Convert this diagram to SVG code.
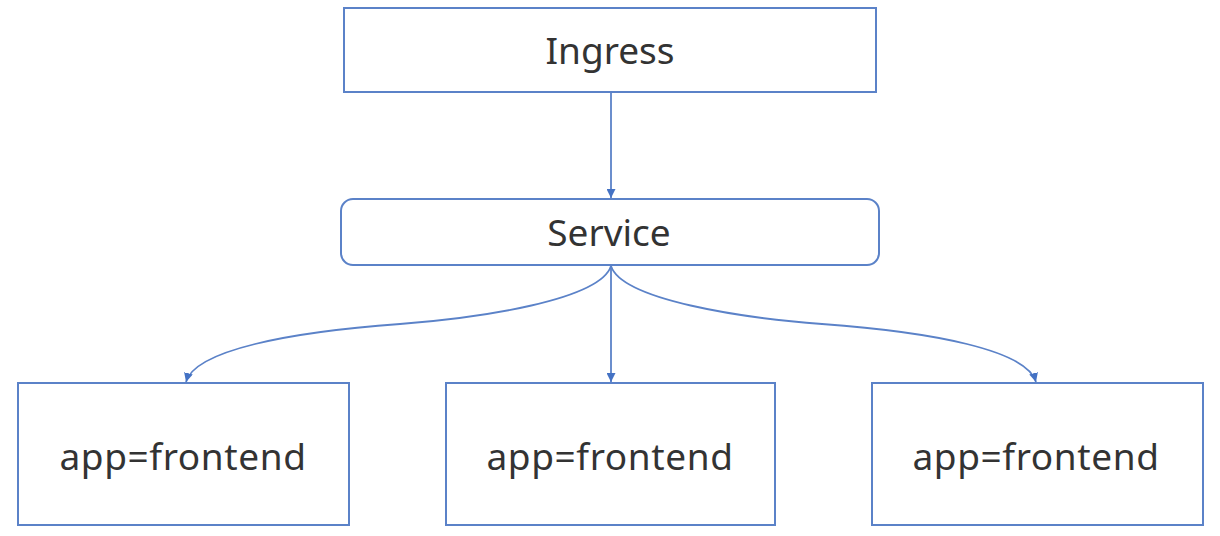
<svg xmlns="http://www.w3.org/2000/svg" width="1220" height="536" viewBox="0 0 1220 536">
<style>
.box{fill:#fff;stroke:#5b82c8;stroke-width:2}
.lbl{font-family:"Noto Sans","Open Sans",sans-serif;font-size:37px;fill:#333;text-anchor:middle}
.app{letter-spacing:0.6px}
.conn{fill:none;stroke:#5b82c8;stroke-width:1.8}
</style>
<defs>
<marker id="ah" viewBox="0 0 10 10" refX="10" refY="5" markerWidth="9" markerHeight="9" markerUnits="userSpaceOnUse" orient="auto">
<path d="M0,0 L10,5 L0,10 z" fill="#4472c4"/>
</marker>
</defs>
<rect width="1220" height="536" fill="#fff"/>
<g id="ingress"><rect class="box" x="344" y="8" width="532" height="84"/><text class="lbl" x="610" y="64">Ingress</text></g>
<g id="service"><rect class="box" x="341" y="199" width="538" height="66" rx="12"/><text class="lbl" x="609" y="246">Service</text></g>
<g id="app1"><rect class="box" x="18" y="383" width="331" height="142"/><text class="lbl app" x="183" y="470">app=frontend</text></g>
<g id="app2"><rect class="box" x="446" y="383" width="329" height="142"/><text class="lbl app" x="610" y="470">app=frontend</text></g>
<g id="app3"><rect class="box" x="872" y="383" width="331" height="142"/><text class="lbl app" x="1036" y="470">app=frontend</text></g>
<g id="connectors">
<path class="conn" d="M611,92 L611,198" marker-end="url(#ah)"/>
<path class="conn" d="M611,266 L611,382" marker-end="url(#ah)"/>
<path class="conn" d="M611,266 C600,300 480,318 400,324 C290,332 195,350 186,382" marker-end="url(#ah)"/>
<path class="conn" d="M611,266 C622,300 742,318 822,324 C932,332 1027,350 1036,382" marker-end="url(#ah)"/>
</g>
</svg>
